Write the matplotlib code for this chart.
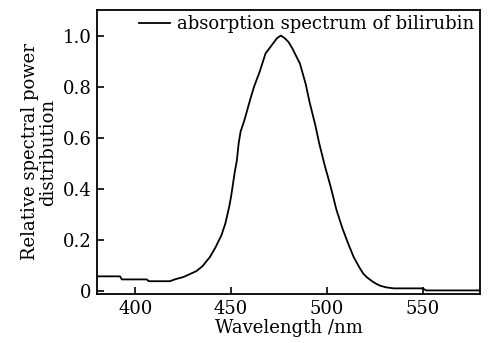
import matplotlib
matplotlib.use("Agg")
import matplotlib.pyplot as plt
from matplotlib.ticker import FuncFormatter

# absorption spectrum of bilirubin
wavelength = [380, 392, 393, 406, 407, 418, 421, 425, 428, 432, 435, 439, 442, 445, 447, 449, 450,
              452, 453, 454, 455, 457, 460, 462, 465, 468, 471, 474, 476, 478, 480, 482, 484, 486, 489,
              491, 494, 496, 499, 502, 505, 508, 511, 514, 517, 519, 521, 524, 526, 528, 531, 535,
              550, 552, 580]
absorbance = [0.059, 0.059, 0.047, 0.047, 0.040, 0.040, 0.048, 0.056, 0.066, 0.080, 0.098, 0.135, 0.174, 0.22, 0.265, 0.33, 0.37,
              0.47, 0.51, 0.58, 0.625, 0.67, 0.75, 0.80, 0.86, 0.93, 0.96, 0.99, 1.0, 0.99, 0.975, 0.95, 0.92, 0.89, 0.81,
              0.74, 0.65, 0.58, 0.49, 0.41, 0.32, 0.25, 0.19, 0.135, 0.094, 0.07, 0.055, 0.038, 0.029, 0.022, 0.016, 0.012,
              0.012, 0.004, 0.004]

xticks = [400, 450, 500, 550]
yticks = [0, 0.2, 0.4, 0.6, 0.8, 1.0]

plt.rcParams['font.family'] = ['DejaVu Serif']
plt.rcParams['font.size'] = 13

fig = plt.figure(figsize=(4.89, 3.43), dpi=100)
ax = fig.add_axes([97 / 489, 1 - 294 / 343, 383 / 489, 284 / 343])

ax.plot(wavelength, absorbance, color='black', lw=1.3, label='absorption spectrum of bilirubin')

ax.set_xlim(380, 580)
ax.set_ylim(-0.01, 1.1)
ax.set_xticks(xticks)
ax.set_yticks(yticks)
ax.yaxis.set_major_formatter(FuncFormatter(lambda v, p: '0' if v == 0 else f'{v:.1f}'))
ax.tick_params(direction='in', length=5, width=1.2, pad=4, labelsize=13)
for s in ax.spines.values():
    s.set_linewidth(1.3)

ax.set_xlabel('Wavelength /nm', fontsize=13, labelpad=1)
ax.set_ylabel('Relative spectral power\ndistribution', fontsize=13, linespacing=1.0, labelpad=4)

ax.legend(loc='upper right', frameon=False, fontsize=13, handlelength=1.7,
          borderaxespad=0.1, handletextpad=0.4, borderpad=0.2)

fig.savefig('out.png', dpi=100)
